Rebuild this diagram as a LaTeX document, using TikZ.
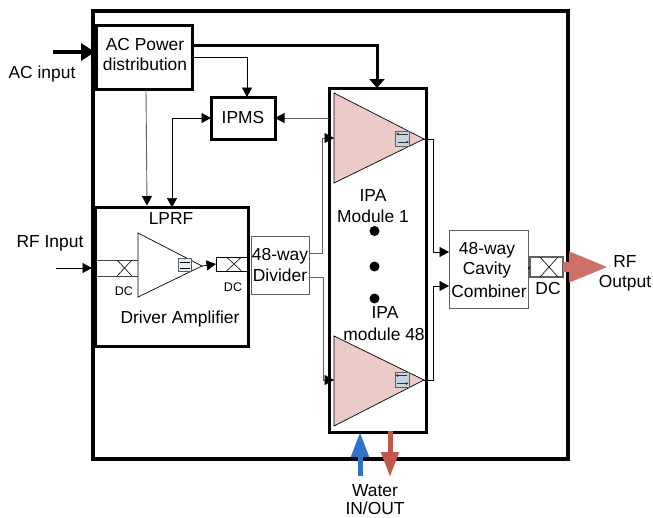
\documentclass[tikz,border=0pt]{standalone}
\usepackage{fontspec}
\setmainfont{Liberation Sans}
\usetikzlibrary{arrows.meta}
\definecolor{boxgray}{HTML}{606060}
\definecolor{ampred}{HTML}{EBCBC8}
\definecolor{iconblue}{HTML}{C5D3E3}
\definecolor{outred}{HTML}{CD7068}
\definecolor{wblue}{HTML}{2F74C8}
\definecolor{wred}{HTML}{C0574A}
\newcommand{\ampicon}[2]{%
  \node[iconbox] (#1) at (#2) {};
  \draw[-{Latex[length=2.5pt,width=3pt]},line width=.8pt,black!80] ([xshift=-5pt,yshift=-3.5pt]#1.center) -- ([xshift=6.5pt,yshift=-3.5pt]#1.center);
  \draw[-{Latex[length=2.5pt,width=3pt]},line width=.8pt,black!80] ([xshift=5pt,yshift=4.5pt]#1.center) -- ([xshift=-6.5pt,yshift=4.5pt]#1.center);
}
\newcommand{\crossbox}[1]{\draw[line width=.6pt] (#1.north west) -- (#1.south east) (#1.north east) -- (#1.south west);}
\tikzset{
  every node/.style={inner sep=0pt,outer sep=0pt,font=\fontsize{17.4}{20}\selectfont,align=center},
  thickbox/.style={draw=black,line width=3pt,fill=white},
  thinbox/.style={draw=boxgray,line width=.9pt,fill=white},
  iconbox/.style={draw=boxgray,line width=1pt,fill=iconblue,minimum width=14pt,minimum height=15pt},
  amp/.style={draw=black,line width=.7pt,line join=miter},
  conn/.style={draw=black,line width=.7pt,-{Triangle[length=9.5pt,width=10pt]}},
  gconn/.style={draw=boxgray,line width=.9pt,-{Triangle[length=9.5pt,width=10pt,color=black,fill=black]}},
  smalldc/.style={font=\fontsize{12.5}{14}\selectfont},
  dot/.style={circle,fill=black,minimum size=10pt},
}
\begin{document}
\begin{tikzpicture}[x=1pt,y=-1pt]
\useasboundingbox (0,0) rectangle (653,517);
% outer frame
\draw[line width=4pt] (93,11) rectangle (568,459);
% boxes
\node[thickbox,minimum width=96pt,minimum height=64pt] (ac) at (144,57) {};
\node at (145,45) {AC Power};
\node at (145,64) {distribution};
\node[thickbox,minimum width=64pt,minimum height=42pt] (ipms) at (243,118) {IPMS};
\node[thickbox,minimum width=97pt,minimum height=344pt] (ipa) at (377.5,260) {};
\node[thickbox,minimum width=153pt,minimum height=139pt] (lprf) at (171.5,277) {};
\node[thinbox,minimum width=79pt,minimum height=78pt] (comb) at (488.5,269) {};
% amplifiers
\coordinate (a1) at (334,93); \coordinate (a1b) at (334,183); \coordinate (a1o) at (424,139);
\coordinate (a2) at (334,336); \coordinate (a2b) at (334,426); \coordinate (a2o) at (424,380);
\coordinate (d1) at (138,233); \coordinate (d1b) at (138,297); \coordinate (d1o) at (202,266);
\draw[amp,fill=ampred] (a1) -- (a1o) -- (a1b) -- cycle;
\draw[amp,fill=ampred] (a2) -- (a2o) -- (a2b) -- cycle;
\ampicon{ic1}{402.5,138.5}
\ampicon{ic2}{402,380}
% LPRF internals
\coordinate (ci1) at (97,260); \coordinate (ci2) at (97,276);
\coordinate (ci1e) at (139,260); \coordinate (ci2e) at (139,276);
\draw[line width=.8pt,boxgray!70!black] (ci1) -- (ci1e) (ci2) -- (ci2e);
\node[minimum width=15pt,minimum height=16pt] (xin) at (124.5,268) {};
\crossbox{xin}
\draw[amp,fill=white] (d1) -- (d1o) -- (d1b) -- cycle;
\node[draw=boxgray,line width=.9pt,fill=iconblue!40,minimum width=13pt,minimum height=13pt] (ic3) at (184.5,265) {};
\draw[line width=.5pt,black] ([xshift=-5pt,yshift=-3pt]ic3.center) -- ([xshift=5pt,yshift=-3pt]ic3.center) ([xshift=-5pt,yshift=3pt]ic3.center) -- ([xshift=5pt,yshift=3pt]ic3.center);
\node[draw=black,line width=.8pt,minimum width=32pt,minimum height=14pt] (xout) at (232,264) {};
\node[minimum width=15pt,minimum height=14pt] (xoutc) at (234,264) {};
\crossbox{xoutc}
\draw[conn] (d1o) -- (xout.west);
\node[thinbox,minimum width=58pt,minimum height=58pt] (div) at (280,265) {48-way\\[1pt]Divider};
\node[smalldc] (dc1) at (124,291) {DC};
\node[smalldc] (dc2) at (233,287) {DC};
\node at (171,219) {LPRF};
\node at (180,319) {Driver Amplifier};
% output coupler and arrow
\node[draw=boxgray,line width=1.2pt,minimum width=33pt,minimum height=20pt] (xo) at (546.5,267) {};
\node[minimum width=18pt,minimum height=20pt] (xoc) at (549,267) {};
\crossbox{xoc}
\draw[line width=.8pt] (comb.east) -- (xo.west);
\coordinate (rfo1) at (563,267); \coordinate (rfo2) at (609,267);
\draw[draw=outred,line width=10pt,-{Triangle[length=40pt,width=28pt]}] (rfo1) -- (rfo2);
% connectors
\coordinate (acin) at (53,52);
\coordinate (acfr) at (95,52);
\draw[line width=4pt,-{Triangle[length=14pt,width=17pt]}] (acin) -- (acfr);
\coordinate (rfin) at (56,268);
\coordinate (rffr) at (92,268);
\draw[conn] (rfin) -- (rffr);
\coordinate (p1) at (193.5,45); \coordinate (p1c) at (377,45);
\draw[line width=3pt,-{Triangle[length=9pt,width=15pt]}] (p1) -- (p1c) -- (ipa.north -| p1c);
\coordinate (p2) at (193.5,57); \coordinate (p2c) at (247,57);
\draw[conn] (p2) -- (p2c) -- (ipms.north -| p2c);
\draw[gconn] (ipa.west |- ipms.east) -- (ipms.east);
\coordinate (bc) at (172,118);
\draw[draw=black,line width=.7pt,{Triangle[length=9.5pt,width=10pt]}-{Triangle[length=9.5pt,width=10pt]}] (ipms.west) -- (bc) -- (bc |- lprf.north);
\coordinate (acb) at (146,89);
\coordinate (acl) at (147,205.5);
\draw[gconn] (acb) -- (acl);
% divider to IPA
\coordinate (du) at (309,253); \coordinate (duc) at (322,253); \coordinate (dut) at (322,138);
\coordinate (dl) at (309,277); \coordinate (dlc) at (323,277); \coordinate (dlb) at (323,380);
\draw[gconn] (du) -- (duc) -- (dut) -- (a1 |- dut);
\draw[gconn] (dl) -- (dlc) -- (dlb) -- (a2 |- dlb);
% IPA to combiner
\coordinate (o1c) at (433,139); \coordinate (o1d) at (433,252);
\coordinate (o2c) at (433,380); \coordinate (o2d) at (433,286);
\draw[conn] (a1o) -- (o1c) -- (o1d) -- (comb.west |- o1d);
\draw[conn] (a2o) -- (o2c) -- (o2d) -- (comb.west |- o2d);
% water
\coordinate (wb1) at (360,476); \coordinate (wb2) at (360,432);
\draw[wblue,line width=5pt,-{Triangle[length=25pt,width=17pt]}] (wb1) -- (wb2);
\coordinate (wr1) at (390,431); \coordinate (wr2) at (390,477);
\draw[wred,line width=5pt,-{Triangle[length=25pt,width=17pt]}] (wr1) -- (wr2);
% dots
\node[dot] (dot1) at (374.5,231) {};
\node[dot] (dot2) at (374.5,266.5) {};
\node[dot] (dot3) at (374.5,298.5) {};
% labels
\node at (373,196) {IPA};
\node at (373,216) {Module 1};
\node at (385,313) {IPA};
\node at (384,334) {module 48};
\node at (487,250) {48-way};
\node at (487,270) {Cavity};
\node at (489,291) {Combiner};
\node at (548,289) {DC};
\node at (625,262) {RF};
\node at (625,283) {Output};
\node at (42,74) {AC input};
\node at (50,243) {RF Input};
\node at (375,491) {Water};
\node at (375,508) {IN/OUT};
\end{tikzpicture}
\end{document}
